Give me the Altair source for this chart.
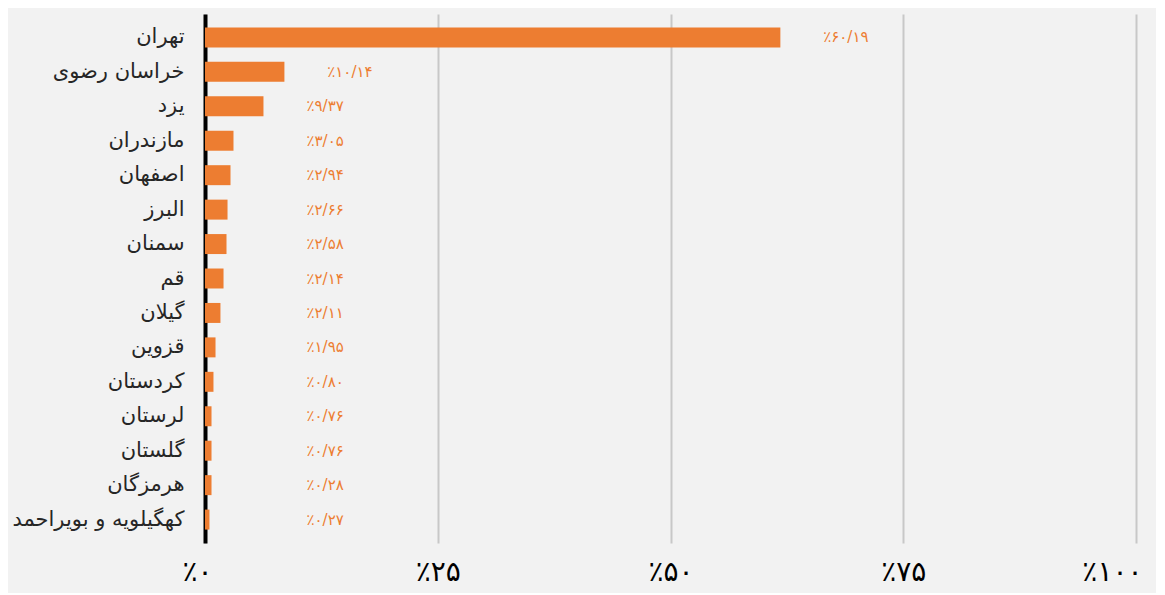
import altair as alt
import pandas as pd

provinces = ["تهران", "خراسان رضوی", "یزد", "مازندران", "اصفهان", "البرز", "سمنان",
             "قم", "گیلان", "قزوین", "کردستان", "لرستان", "گلستان", "هرمزگان",
             "کهگیلویه و بویراحمد"]
bar_values = [61.8, 8.53, 6.28, 3.06, 2.74, 2.42, 2.31, 1.99, 1.66, 1.13, 0.91, 0.70, 0.70, 0.70, 0.48]
value_labels = ["٪۶۰/۱۹", "٪۱۰/۱۴", "٪۹/۳۷", "٪۳/۰۵", "٪۲/۹۴", "٪۲/۶۶", "٪۲/۵۸",
                "٪۲/۱۴", "٪۲/۱۱", "٪۱/۹۵", "٪۰/۸۰", "٪۰/۷۶", "٪۰/۷۶", "٪۰/۲۸", "٪۰/۲۷"]
tick_values = [0, 25, 50, 75, 100]
tick_labels = ["٪۰", "٪۲۵", "٪۵۰", "٪۷۵", "٪۱۰۰"]

df = pd.DataFrame({"province": provinces, "value": bar_values, "label": value_labels})

label_expr = " : ".join(
    f"datum.value == {v} ? '{t}'" for v, t in zip(tick_values, tick_labels)
) + " : ''"

ORANGE = "#ED7D31"

y_enc = alt.Y("province:N", sort=provinces,
              scale=alt.Scale(paddingInner=0.42, paddingOuter=0.39),
              axis=alt.Axis(title=None, ticks=False, domain=True, domainColor="#000000",
                            domainWidth=4, labelFontSize=21, labelColor="#262626",
                            labelFont="DejaVu Sans", labelPadding=21, labelLimit=300))

x_scale = alt.Scale(domain=[0, 100], nice=False)

bars = alt.Chart(df).mark_bar(color=ORANGE).encode(
    x=alt.X("value:Q", scale=x_scale,
            axis=alt.Axis(title=None, values=tick_values, labelExpr=label_expr,
                          domain=False, ticks=False, grid=True, gridColor="#c8c8c8",
                          gridWidth=2, labelFontSize=28, labelColor="#000000",
                          labelFont="DejaVu Sans", labelPadding=15,
                          labelFlush=False, labelBaseline="top",
                          labelAlign=alt.ExprRef(expr="datum.value == 100 ? 'right' : 'center'"),
                          labelOffset=alt.ExprRef(expr="datum.value == 100 ? 6 : (datum.value == 0 ? -8 : 0)"))),
    y=y_enc,
)

texts = alt.Chart(df).transform_calculate(
    lx="max(datum.value + 4.6, 10.9)"
).mark_text(color=ORANGE, align="left", baseline="middle", fontSize=15,
            font="DejaVu Sans").encode(
    x=alt.X("lx:Q", scale=x_scale),
    y=alt.Y("province:N", sort=provinces),
    text="label:N",
)

chart = (bars + texts).properties(
    width=931, height=529,
    autosize=alt.AutoSizeParams(type="none"),
    padding={"left": 197, "top": 6, "right": 20, "bottom": 50},
    background="#f2f2f2",
).configure_view(stroke=None)

chart.save("out.html", embed_options={"renderer": "svg", "actions": False})
